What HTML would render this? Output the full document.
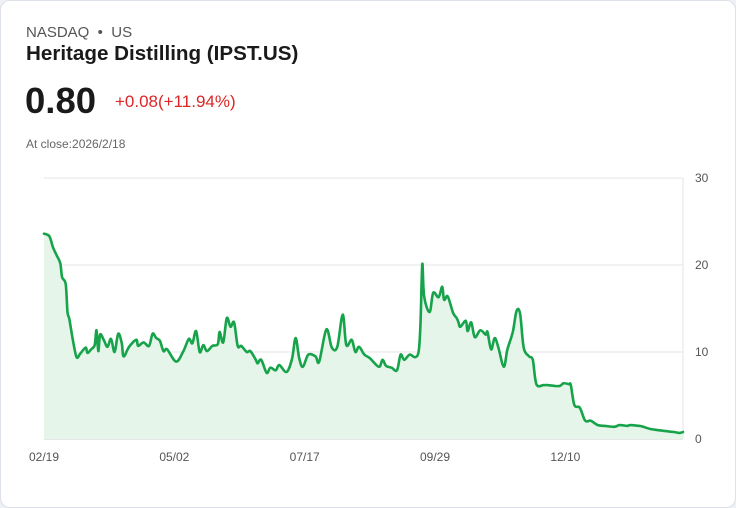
<!DOCTYPE html>
<html><head><meta charset="utf-8"><style>
body{margin:0;background:#eef0f4;font-family:"Liberation Sans",sans-serif;}
.card{position:absolute;left:0;top:0;width:734px;height:506px;background:#fff;border:1px solid #dde1e8;border-radius:10px;}
.t{position:absolute;white-space:nowrap;}
</style></head><body>
<div class="card">
<div class="t" style="left:25px;top:23px;font-size:15px;color:#555;">NASDAQ &nbsp;•&nbsp; US</div>
<div class="t" style="left:25px;top:41px;font-size:20.6px;font-weight:bold;color:#1a1a1a;">Heritage Distilling (IPST.US)</div>
<div class="t" style="left:24px;top:79px;font-size:36.5px;font-weight:bold;color:#1a1a1a;">0.80</div>
<div class="t" style="left:114px;top:91px;font-size:17px;color:#dc2626;">+0.08(+11.94%)</div>
<div class="t" style="left:25px;top:136px;font-size:12px;color:#666;">At close:2026/2/18</div>
<svg id="chart" width="736" height="508" style="position:absolute;left:-1px;top:-1px"></svg>
</div>
<script>
const days=[0,3,5,7,9,10,12,13,14,16,18,20,23,24,26,28,29,30,31,33,35,37,39,41,43,44,47,51,52,55,58,60,62,64,66,68,73,77,80,82,84,86,88,90,93,96,97,99,101,103,105,107,109,112,114,117,118,120,123,125,128,130,134,137,139,141,143,146,150,152,156,159,162,165,167,170,172,174,177,180,185,187,189,192,195,197,199,202,205,207,208,209,210,213,215,218,220,221,223,226,228,229,230,233,234,236,238,241,244,245,247,249,251,254,256,259,261,263,265,268,270,272,276,278,282,285,287,290,291,293,296,299,302,306,310,315,318,322,324,329,331,335,340,344,348,351,353];
const prices=[23.6,23.3,22,21.1,20.2,18.6,17.8,14.6,13.8,11.3,9.4,9.8,10.5,9.9,10.3,10.8,12.5,10.1,12,11.4,10.6,11.5,10,12.1,11,9.5,10.6,11.4,10.7,11.1,10.7,12.1,11.6,11.3,10.1,10.3,8.9,10.1,11.5,11,12.4,10,10.8,10.1,10.7,10.9,12.3,11.1,13.9,12.9,13.4,10.7,10.7,10,10.1,9.1,8.7,9.1,7.6,8.2,7.9,8.5,7.7,9.2,11.6,9.3,8.3,9.7,9.5,8.9,12.6,10.5,10.6,14.3,10.8,11.4,10,10.6,9.7,9.3,8.3,9.1,8.4,8.2,7.9,9.7,9.1,9.7,9.4,10.1,13.3,20.1,16.4,14.6,16.8,16.3,17.5,16,16.4,14.5,13.9,13.4,12.9,13.6,12.4,13.4,11.7,12.5,12,12.3,10.3,11.6,10.5,8.3,10.3,12.3,14.7,14.4,10.5,9.5,9.1,6.3,6.2,6.2,6.1,6.1,6.4,6.3,6.2,3.9,3.6,2.1,2.1,1.6,1.5,1.4,1.6,1.5,1.6,1.5,1.4,1.15,1.0,0.9,0.8,0.7,0.8];
const yTicks=[0,10,20,30];
const xTickDays=[0,72,144,216,288];
const xTickLabels=["02/19","05/02","07/17","09/29","12/10"];
const NS="http://www.w3.org/2000/svg",svg=document.getElementById('chart');
const X0=44,X1=683,Y0=439,Y1=178,DMAX=353,VMAX=30;
const xs=d=>X0+(d/DMAX)*(X1-X0), ys=v=>Y0-(v/VMAX)*(Y0-Y1);
function mk(t,a){const e=document.createElementNS(NS,t);for(const k in a)e.setAttribute(k,a[k]);svg.appendChild(e);return e;}
yTicks.forEach(v=>{
 const l=mk('line',{x1:X0,x2:X1,y1:ys(v),y2:ys(v),stroke:v===0?'#cfcfcf':'#e6e6e6','stroke-width':1});
 
 
 const t=mk('text',{x:695,y:ys(v)+4,'font-size':12,fill:'#555','font-family':'Liberation Sans, sans-serif'});
 t.textContent=v;
 
 
});
const ax=mk('line',{x1:X1,x2:X1,y1:Y1,y2:Y0,stroke:'#e3e3e3','stroke-width':1});


xTickDays.forEach((d,i)=>{
 const t=mk('text',{x:xs(d),y:461,'font-size':12,fill:'#555','text-anchor':'middle','font-family':'Liberation Sans, sans-serif'});
 t.textContent=xTickLabels[i];
 
 
});
const pts=days.map((d,i)=>[xs(d),ys(prices[i])]);
let p='M'+pts[0][0].toFixed(1)+','+pts[0][1].toFixed(1);
for(let i=0;i<pts.length-1;i++){
 const p0=pts[Math.max(0,i-1)],p1=pts[i],p2=pts[i+1],p3=pts[Math.min(pts.length-1,i+2)];
 const c1=[p1[0]+(p2[0]-p0[0])/6,p1[1]+(p2[1]-p0[1])/6],c2=[p2[0]-(p3[0]-p1[0])/6,p2[1]-(p3[1]-p1[1])/6];
 p+='C'+c1[0].toFixed(1)+','+c1[1].toFixed(1)+' '+c2[0].toFixed(1)+','+c2[1].toFixed(1)+' '+p2[0].toFixed(1)+','+p2[1].toFixed(1);
}
const area=mk('path',{d:p+'L'+xs(days[days.length-1])+','+Y0+'L'+xs(days[0])+','+Y0+'Z',fill:'#e5f5ea'});


const line=mk('path',{d:p,fill:'none',stroke:'#16a34a','stroke-width':2.6,'stroke-linejoin':'round','stroke-linecap':'round'});


</script>
</body></html>
